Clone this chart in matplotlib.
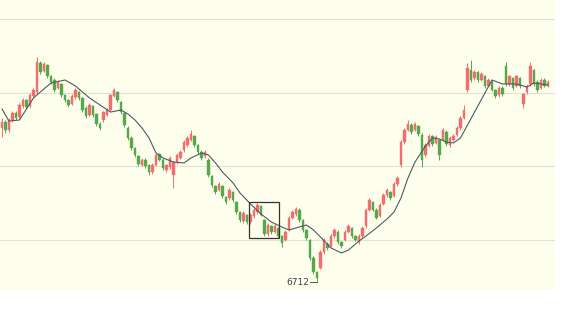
import numpy as np
import matplotlib
matplotlib.use("Agg")
import matplotlib.pyplot as plt
from matplotlib.patches import Rectangle

opens = [7762,7802,7748,7816,7864,7836,7911,7952,7911,7979,
         8006,8204,8149,8190,8115,8088,8034,8061,7986,7952,
         7925,7972,8006,7966,7898,7850,7911,7857,7789,7816,
         7850,7884,7979,8006,7938,7864,7762,7694,7626,7571,
         7510,7544,7510,7462,7510,7585,7544,7476,7496,7442,
         7530,7558,7612,7646,7680,7707,7646,7598,7571,7544,
         7435,7367,7340,7367,7292,7286,7326,7258,7190,7129,
         7170,7122,7163,7190,7231,7136,7041,7095,7054,7082,
         7027,7000,7068,7150,7177,7204,7136,7068,7000,6878,
         6782,6810,6918,6973,6959,7027,7054,6986,7000,7054,
         7082,7027,6986,7027,7095,7204,7258,7204,7163,7245,
         7306,7326,7299,7381,7510,7666,7748,7782,7748,7775,
         7714,7578,7639,7707,7660,7680,7680,7734,7646,7680,
         7714,7762,7830,8020,8156,8102,8142,8088,8115,8047,
         8074,8020,7986,8034,8183,8061,8102,8047,8102,7925,
         8006,8061,8156,8074,8034,8088,8047]
closes = [7802,7748,7816,7864,7830,7918,7952,7904,7986,8020,
          8210,8142,8197,8115,8074,8020,8074,7986,7952,7918,
          7979,8020,7966,7884,7843,7918,7850,7789,7762,7870,
          7884,7986,8020,7952,7870,7782,7694,7626,7578,7517,
          7544,7503,7462,7510,7578,7544,7490,7510,7558,7530,
          7578,7598,7666,7694,7721,7646,7598,7558,7598,7442,
          7374,7326,7381,7299,7258,7340,7272,7190,7136,7184,
          7122,7170,7204,7238,7170,7041,7102,7054,7095,7027,
          6980,7054,7150,7190,7211,7136,7068,7014,6878,6782,
          6742,6918,7000,6946,7027,7068,6986,6959,7054,7095,
          7027,7000,7027,7082,7204,7272,7204,7150,7238,7306,
          7340,7286,7381,7422,7666,7748,7789,7734,7789,7721,
          7544,7646,7707,7653,7700,7578,7748,7653,7694,7707,
          7762,7830,7884,8170,8088,8142,8088,8129,8047,8088,
          8020,7979,8034,7993,8061,8115,8034,8115,8047,7993,
          8047,8183,8061,8020,8088,8047,8074]
highs = [7830,7815,7830,7880,7875,7930,7965,7960,8000,8035,
         8244,8215,8210,8200,8125,8100,8090,8070,7995,7960,
         7990,8035,8015,7975,7910,7930,7920,7865,7800,7880,
         7895,7995,8034,8015,7945,7870,7775,7705,7635,7580,
         7560,7555,7520,7525,7590,7595,7555,7520,7570,7540,
         7590,7610,7680,7705,7748,7715,7655,7610,7610,7555,
         7445,7375,7395,7375,7300,7355,7335,7265,7200,7195,
         7180,7185,7215,7252,7240,7145,7115,7105,7110,7090,
         7035,7065,7160,7205,7224,7215,7145,7075,7010,6890,
         6790,6930,7015,6985,7040,7080,7065,6995,7065,7110,
         7090,7035,7040,7095,7215,7285,7265,7215,7250,7320,
         7355,7335,7395,7435,7680,7765,7816,7795,7805,7785,
         7725,7660,7720,7715,7712,7690,7760,7745,7705,7720,
         7775,7845,7918,8204,8224,8155,8150,8140,8125,8100,
         8085,8030,8045,8045,8210,8125,8110,8125,8110,8000,
         8060,8210,8165,8085,8100,8100,8085]
lows = [7700,7730,7735,7805,7815,7825,7900,7890,7900,7965,
        7995,8130,8140,8100,8060,8005,8025,7975,7940,7905,
        7915,7960,7955,7870,7830,7840,7835,7775,7745,7805,
        7840,7875,7970,7940,7860,7770,7680,7610,7565,7500,
        7500,7490,7445,7450,7500,7535,7475,7465,7485,7354,
        7520,7548,7600,7635,7670,7635,7585,7545,7560,7430,
        7360,7310,7330,7285,7245,7275,7260,7175,7120,7115,
        7110,7110,7150,7180,7160,7030,7030,7040,7045,7015,
        6952,6990,7060,7140,7165,7125,7055,7000,6865,6770,
        6712,6800,6905,6935,6950,7015,6975,6945,6990,7045,
        7015,6990,6975,7015,7085,7195,7195,7140,7155,7235,
        7295,7275,7290,7370,7496,7655,7740,7720,7740,7710,
        7496,7565,7630,7640,7650,7544,7670,7640,7635,7670,
        7705,7750,7820,8006,8075,8090,8075,8080,8035,8040,
        8010,7965,7975,7980,8050,8050,8020,8040,8035,7898,
        7995,8050,8050,8005,8025,8040,8040]

ma_idx = [0,2,5,9,14,18,21,25,28,31,34,36,38,40,42,44,46,49,52,54,
          57,59,61,63,66,68,71,74,77,80,82,84,87,89,91,94,97,99,102,104,
          107,110,112,114,116,118,121,123,125,127,129,131,140,143,147,150,152,154,156]
ma_vals = [7891,7809,7816,7966,8068,8088,8047,7966,7918,7870,7884,7857,7816,7762,7694,7592,7558,7530,7524,7558,
           7592,7578,7524,7462,7388,7320,7245,7177,7122,7088,7068,7082,7102,7068,7020,6946,6912,6932,6993,7027,
           7082,7143,7190,7286,7422,7530,7639,7694,7687,7666,7660,7694,8088,8061,8061,8040,8068,8061,8054]

grid_levels = [7000, 7500, 8000, 8500]
box_x = [70.6, 79.1]
box_y = [7014, 7258]
min_label = "6712"

opens = np.array(opens, float)
closes = np.array(closes, float)
highs = np.array(highs, float)
lows = np.array(lows, float)
idx = np.arange(len(opens))

fig = plt.figure(figsize=(5.65, 3.35), dpi=100)
fig.patch.set_facecolor("white")
ax = fig.add_axes([0.0, 45/335, 555/565, 290/335])
ax.set_facecolor("#fefeec")

for g in grid_levels:
    ax.axhline(g, color="#e2e2d2", lw=0.8, zorder=0)

up = closes >= opens
up_col = "#f06e6e"
dn_col = "#56a84a"
cols = np.where(up, up_col, dn_col)
ax.vlines(idx, lows, highs, colors=cols, lw=0.7, zorder=2)
ax.bar(idx, closes - opens, bottom=opens, width=0.62, color=cols,
       edgecolor=cols, linewidth=0.3, zorder=3)

ax.plot(ma_idx, ma_vals, color="#4b5a68", lw=0.8, zorder=4)

ax.add_patch(Rectangle((box_x[0], box_y[0]), box_x[1] - box_x[0], box_y[1] - box_y[0],
                       fill=False, edgecolor="#333333", lw=0.9, zorder=5))

imin = int(np.argmin(lows))
ax.plot([imin - 2.0, imin], [lows[imin], lows[imin]], color="#555555", lw=0.7, zorder=5)
ax.text(imin - 2.2, lows[imin], min_label, ha="right", va="center",
        fontsize=6.5, color="#3a4250", zorder=6)

ax.set_xlim(-0.57, 158.0)
ax.set_ylim(6660, 8632)
ax.set_xticks([])
ax.set_yticks([])
for s in ax.spines.values():
    s.set_visible(False)

fig.savefig("out.png", dpi=100)
